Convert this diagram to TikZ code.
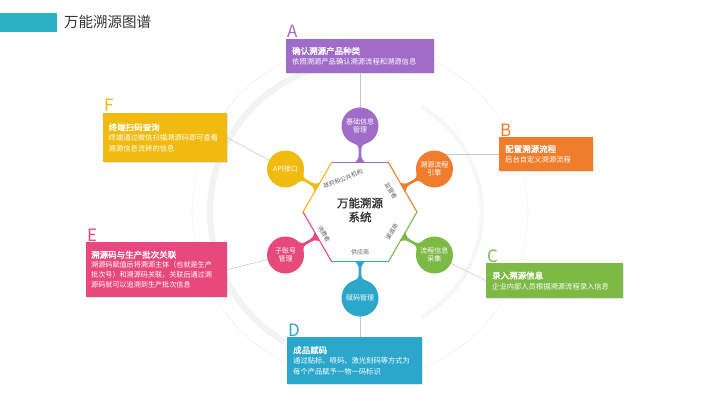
\documentclass[tikz,border=0pt]{standalone}
\usepackage{fontspec}
\setmainfont{Noto Sans CJK SC}
\newfontfamily\cjkb[FakeBold=1.6]{Noto Sans CJK SC}
\usetikzlibrary{calc,shadows,arrows.meta}
\definecolor{cpur}{RGB}{161,108,201}
\definecolor{cora}{RGB}{240,125,44}
\definecolor{cgrn}{RGB}{124,185,69}
\definecolor{cblu}{RGB}{42,167,202}
\definecolor{cpnk}{RGB}{232,73,124}
\definecolor{cyel}{RGB}{241,186,14}
\definecolor{cteal}{RGB}{43,178,195}
\definecolor{ctxt}{RGB}{51,51,51}
\begin{document}
\begin{tikzpicture}[x=1pt,y=1pt,
  bubble/.style={circle, minimum size=37pt, inner sep=0pt, text=white,
    font=\fontsize{7}{8.5}\selectfont, align=center},
  infobox/.style={rectangle, inner xsep=6pt, inner ysep=3pt, text=white, align=left,
    anchor=north west, font=\fontsize{7.3}{10.5}\selectfont,
    drop shadow={opacity=0.2, shadow xshift=1pt, shadow yshift=-1.2pt}},
  link/.style={draw=gray!45, line width=0.5pt},
  letter/.style={font=\fontsize{17}{17}\selectfont, anchor=base west, inner sep=0pt},
  edgelbl/.style={font=\fontsize{6}{6.5}\selectfont, text=gray!75!black, inner sep=0pt},
  hexedge/.style={line width=1.1pt, line cap=round}]
\useasboundingbox (0,0) rectangle (720,405);
\fill[white] (0,0) rectangle (720,405);

% title
\fill[cteal] (0,373) rectangle (57,392);
\node[anchor=west, inner sep=0pt, text=ctxt, font=\fontsize{14.5}{15}\selectfont] (title) at (64,383.5) {万能溯源图谱};

\coordinate (O) at (360,193);

% background rings
\draw[gray!10, line width=6pt] ($(O)+(95:150)$) arc[start angle=95, end angle=240, radius=150];
\draw[gray!7, line width=4pt] ($(O)+(-60:122)$) arc[start angle=-60, end angle=60, radius=122];
\draw[gray!14, line width=0.4pt] (O) circle[radius=168];
\foreach \a in {130,44,-2,-47,-134,175} {
  \draw[draw=none, -{Stealth[length=5pt,width=4.5pt,color=black!70]}]
    ($(O)+(\a+3:168)$) arc[start angle=\a+3, end angle=\a, radius=168];
}

% boxes
\node[infobox, fill=cpur, minimum width=148pt, minimum height=34pt, text width=136pt] (bA) at (286,366)
  {{\cjkb\fontsize{8.5}{11}\selectfont 确认溯源产品种类}\\依照溯源产品确认溯源流程和溯源信息};
\node[infobox, fill=cora, minimum width=94pt, minimum height=34pt, text width=82pt] (bB) at (499,268)
  {{\cjkb\fontsize{8.5}{11}\selectfont 配置溯源流程}\\后台自定义溯源流程};
\node[infobox, fill=cgrn, minimum width=137pt, minimum height=35pt, text width=125pt] (bC) at (486,142)
  {{\cjkb\fontsize{8.5}{11}\selectfont 录入溯源信息}\\企业内部人员根据溯源流程录入信息};
\node[infobox, fill=cblu, minimum width=135pt, minimum height=47pt, text width=123pt] (bD) at (287,68)
  {{\cjkb\fontsize{8.5}{11}\selectfont 成品赋码}\\通过贴标、喷码、激光刻码等方式为\\每个产品赋予一物一码标识};
\node[infobox, fill=cpnk, minimum width=141pt, minimum height=55pt, text width=131pt, inner xsep=5pt,
  font=\fontsize{7.1}{10}\selectfont] (bE) at (86,163)
  {{\cjkb\fontsize{8.5}{11}\selectfont 溯源码与生产批次关联}\\溯源码赋值后将溯源主体（也就是生产\\批次号）和溯源码关联，关联后通过溯\\源码就可以追溯到生产批次信息};
\node[infobox, fill=cyel, minimum width=124pt, minimum height=49pt, text width=113pt, inner xsep=5.5pt] (bF) at (103,292)
  {{\cjkb\fontsize{8.5}{11}\selectfont 终端扫码查询}\\终端通过微信扫描溯源码即可查看\\溯源信息流转的信息};

% letters
\node[letter, text=cpur] (lA) at ($(bA.north west)+(1,1)$) {A};
\node[letter, text=cora] (lB) at ($(bB.north west)+(1,1)$) {B};
\node[letter, text=cgrn] (lC) at ($(bC.north west)+(1,1)$) {C};
\node[letter, text=cblu] (lD) at ($(bD.north west)+(1,1)$) {D};
\node[letter, text=cpnk] (lE) at ($(bE.north west)+(1,1)$) {E};
\node[letter, text=cyel] (lF) at ($(bF.north west)+(1,1)$) {F};

% circle positions
\coordinate (ppc) at ($(O)+(90:86)$);
\coordinate (poc) at ($(O)+(30:86)$);
\coordinate (pgc) at ($(O)+(-30:86)$);
\coordinate (pbc) at ($(O)+(-90:86)$);
\coordinate (pkc) at ($(O)+(-150:86)$);
\coordinate (pyc) at ($(O)+(150:86)$);

% links (behind circles)
\draw[link] (ppc) -- (ppc |- bA.south);
\draw[link] (bB.west) -- (bB.west -| poc);
\draw[link] (pgc) -- (bC.west);
\draw[link] (pbc) -- (pbc |- bD.north);
\draw[link] (pkc) -- (bE.east);
\draw[link] (pyc) -- (bF.east);

% hexagon
\foreach \k in {0,60,120,180,240,300} { \coordinate (h\k) at ($(O)+(\k:57)$); }
\fill[white, drop shadow={opacity=0.15, shadow xshift=0pt, shadow yshift=-1pt}]
  (h0) -- (h60) -- (h120) -- (h180) -- (h240) -- (h300) -- cycle;
\draw[hexedge, cpur] (h60) -- (h120);
\draw[hexedge, cora] (h0) -- (h60);
\draw[hexedge, cgrn] (h300) -- (h0);
\draw[hexedge, cblu] (h240) -- (h300);
\draw[hexedge, cpnk] (h180) -- (h240);
\draw[hexedge, cyel] (h120) -- (h180);

% stems
\foreach \ang/\col in {90/cpur, 30/cora, -30/cgrn, -90/cblu, -150/cpnk, 150/cyel} {
  \begin{scope}[shift={(O)}, rotate=\ang]
    \fill[\col] (49.4,-5) .. controls (54,-1.3) .. (57,-1.3) -- (63,-1.3)
      .. controls (66,-1.3) .. (70,-8) -- (70,8) .. controls (66,1.3) .. (63,1.3)
      -- (57,1.3) .. controls (54,1.3) .. (49.4,5) -- cycle;
  \end{scope}
}

% circles
\node[bubble, fill=cpur] (pc) at (ppc) {基础信息\\管理};
\node[bubble, fill=cora] (oc) at (poc) {溯源流程\\引擎};
\node[bubble, fill=cgrn] (gc) at (pgc) {流程信息\\采集};
\node[bubble, fill=cblu] (bc) at (pbc) {赋码管理};
\node[bubble, fill=cpnk] (kc) at (pkc) {子账号\\管理};
\node[bubble, fill=cyel] (yc) at (pyc) {API接口};

% hexagon labels
\node[font=\cjkb\fontsize{11.5}{14}\selectfont, text=ctxt, align=center, inner sep=0pt] (ctr) at (360,195) {万能溯源\\系统};
\node[edgelbl, rotate=22] (l1) at (343,226) {政府和公共机构};
\node[edgelbl, rotate=-60] (l2) at (391,214) {监管者};
\node[edgelbl, rotate=60] (l3) at (392,173) {渠道商};
\node[edgelbl] (l4) at (360,153) {供应商};
\node[edgelbl, rotate=-60] (l5) at (324,171) {消费者};
\end{tikzpicture}
\end{document}
